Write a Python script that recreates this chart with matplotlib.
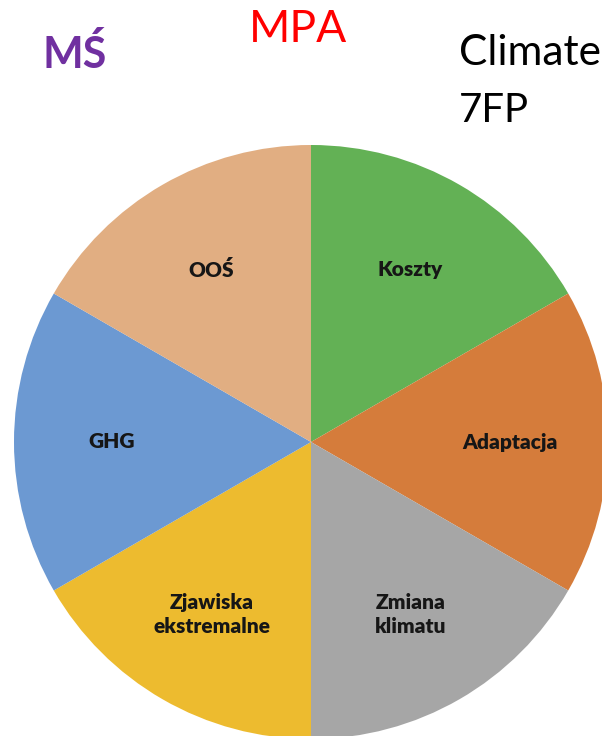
import matplotlib
matplotlib.use("Agg")
import matplotlib.pyplot as plt

# six equal topics, clockwise from the top
labels = ['Koszty', 'Adaptacja', 'Zmiana\nklimatu', 'Zjawiska\nekstremalne', 'GHG', 'OOŚ']
shares = [1, 1, 1, 1, 1, 1]
colors = ['#63B155', '#D57C3B', '#A6A6A6', '#EDBB2F', '#6C99D2', '#E1AE82']

plt.rcParams['font.family'] = ['Lato', 'DejaVu Sans']

fig = plt.figure(figsize=(6.02, 7.36), dpi=100)
ax = fig.add_axes([0, 0, 1, 1])

# axes in pixel units (y down), so angles run clockwise on screen
wedges, texts = ax.pie(shares, labels=labels, colors=colors, startangle=-90,
                       counterclock=True, center=(311, 442), radius=297,
                       labeldistance=0.67, frame=True,
                       textprops=dict(fontsize=15, fontweight='heavy', color='#161616'))
for t in texts:
    t.set_horizontalalignment('center')
    t.set_verticalalignment('center')
    t.set_multialignment('center')
    t.set_linespacing(1.3)

ax.set_xlim(0, 602)
ax.set_ylim(736, 0)
ax.axis('off')

ax.text(75, 68, 'MŚ', color='#7030A0', fontsize=31, fontweight='bold', ha='center', va='baseline')
ax.text(298, 42, 'MPA', color='#FF0000', fontsize=32, ha='center', va='baseline')
ax.text(459, 65, 'Climate', color='black', fontsize=30.5, ha='left', va='baseline')
ax.text(459, 122, '7FP', color='black', fontsize=29, ha='left', va='baseline')

fig.savefig('out.png', dpi=100)
